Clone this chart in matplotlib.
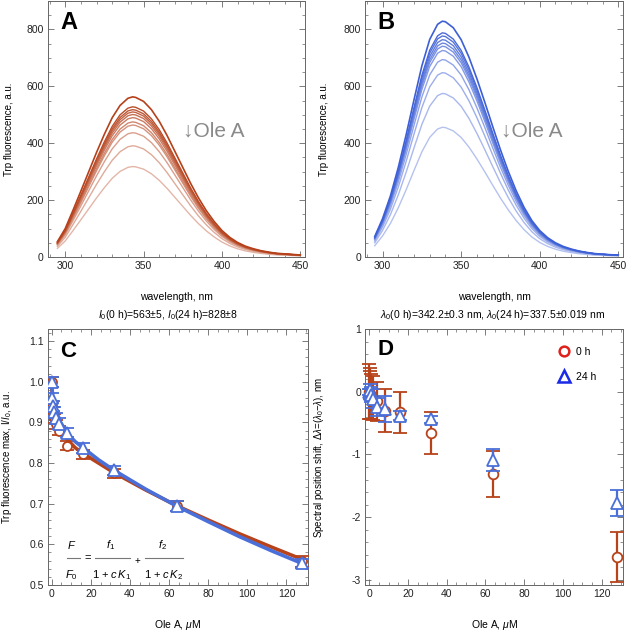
import numpy as np
import matplotlib.pyplot as plt
from matplotlib.lines import Line2D
from matplotlib.ticker import MultipleLocator, FormatStrFormatter

plt.rcParams['font.family'] = ['Liberation Sans', 'DejaVu Sans']
plt.rcParams['mathtext.fontset'] = 'custom'
plt.rcParams['mathtext.rm'] = 'Liberation Sans'
plt.rcParams['mathtext.it'] = 'Liberation Sans:italic'
plt.rcParams['axes.unicode_minus'] = False
plt.rcParams['font.size'] = 7.5

# --- spectra: top curve, other curves scaled to their peaks
wl_a = [295, 300, 305, 310, 315, 320, 325, 330, 335, 340, 343, 345, 350, 355, 360, 365, 370,
        375, 380, 385, 390, 395, 400, 405, 410, 415, 420, 425, 430, 435, 440, 445, 450]
top_a = [54, 100, 165, 232, 300, 368, 432, 490, 533, 558, 563, 561, 547, 518, 477, 427, 371,
         315, 259, 208, 163, 125, 93, 69, 51, 38, 29, 22, 17, 13, 11, 9, 7]
peaks_a = [563, 528, 518, 510, 501, 490, 475, 464, 437, 391, 318]

wl_b = [295, 300, 305, 310, 315, 320, 325, 330, 335, 338, 340, 345, 350, 355, 360, 365, 370,
        375, 380, 385, 390, 395, 400, 405, 410, 415, 420, 425, 430, 435, 440, 445, 450]
top_b = [72, 135, 215, 315, 430, 553, 672, 765, 818, 829, 827, 806, 764, 702, 627, 545, 460,
         377, 301, 233, 175, 128, 93, 68, 50, 37, 28, 21, 16, 12, 10, 8, 7]
peaks_b = [829, 788, 777, 764, 752, 741, 726, 694, 648, 575, 456]

# --- titration, Ole A concentration in uM
conc = [0, 0.25, 0.5, 1, 2, 4, 8, 16, 32, 64, 128]
ratio_0h = [1.0, 0.94, 0.925, 0.91, 0.895, 0.88, 0.843, 0.822, 0.775, 0.694, 0.558]
ratio_24h = [1.0, 0.96, 0.94, 0.925, 0.91, 0.897, 0.875, 0.838, 0.782, 0.695, 0.553]
ratio_err_0h = [0.012, 0.012, 0.012, 0.012, 0.012, 0.012, 0.011, 0.011, 0.011, 0.012, 0.014]
ratio_err_24h = [0.013, 0.013, 0.013, 0.013, 0.013, 0.013, 0.012, 0.012, 0.011, 0.012, 0.012]

fit_x = [0, 0.5, 1, 2, 4, 8, 12, 16, 24, 32, 48, 64, 80, 96, 112, 128]
fit_0h = [0.995, 0.955, 0.935, 0.915, 0.89, 0.858, 0.838, 0.824, 0.8, 0.776, 0.734, 0.695,
          0.66, 0.626, 0.594, 0.563]
fit_24h = [1.0, 0.965, 0.948, 0.93, 0.905, 0.873, 0.853, 0.838, 0.808, 0.782, 0.736, 0.694,
           0.656, 0.619, 0.585, 0.553]

shift_0h = [0.0, -0.03, -0.05, -0.08, -0.1, -0.15, -0.3, -0.33, -0.66, -1.31, -2.64]
shift_err_0h = [0.44, 0.41, 0.38, 0.36, 0.35, 0.31, 0.34, 0.32, 0.34, 0.36, 0.4]
shift_24h = [0.0, -0.03, 0.02, -0.05, -0.11, -0.24, -0.27, -0.38, -0.44, -1.09, -1.77]
shift_err_24h = [0.05, 0.08, 0.1, 0.12, 0.15, 0.14, 0.21, 0.07, 0.06, 0.18, 0.21]

RED = '#b8431b'
BLUE = '#4a6fd8'

W, H = 626, 631


def px_rect(l, t, r, b):
    return [l / W, 1 - b / H, (r - l) / W, (b - t) / H]


def style(ax):
    ax.tick_params(which='both', direction='in', top=True, right=True, colors='#666',
                   labelcolor='#222', labelsize=7.5)
    ax.tick_params(which='major', length=4, width=0.6, pad=3)
    ax.tick_params(which='minor', length=2.2, width=0.5)
    for s in ax.spines.values():
        s.set_color('#666')
        s.set_linewidth(0.7)


def blend(c, t):
    c = np.array(plt.matplotlib.colors.to_rgb(c))
    return tuple(c + (1 - c) * t)


fig = plt.figure(figsize=(W / 100, H / 100), dpi=100)
axA = fig.add_axes(px_rect(48, 1, 305, 257))
axB = fig.add_axes(px_rect(365.3, 1, 623, 257))
axC = fig.add_axes(px_rect(47.7, 329, 308, 585))
axD = fig.add_axes(px_rect(365.3, 329, 623, 585))

# A and B: spectra
for ax, wl, top, peaks, col, letter in [(axA, wl_a, top_a, peaks_a, '#b5401a', 'A'),
                                         (axB, wl_b, top_b, peaks_b, '#3d5fd6', 'B')]:
    n = len(peaks)
    for i in range(n - 1, -1, -1):
        y = np.array(top) * peaks[i] / peaks[0]
        ax.plot(wl, y, color=blend(col, 0.62 * i / (n - 1)), lw=1.0 if i else 1.2)
    ax.set_xlim(289, 453)
    ax.set_ylim(0, 900)
    ax.xaxis.set_major_locator(MultipleLocator(50))
    ax.xaxis.set_minor_locator(MultipleLocator(10))
    ax.yaxis.set_major_locator(MultipleLocator(200))
    ax.yaxis.set_minor_locator(MultipleLocator(50))
    style(ax)
    ax.set_xlabel('wavelength, nm', fontsize=7.5)
    ax.xaxis.set_label_coords(0.5, -0.136)
    ax.set_ylabel('Trp fluorescence, a.u.', fontsize=7)
    ax.text(0.08, 0.915, letter, transform=ax.transAxes, fontsize=17, fontweight='bold',
            ha='center', va='center')
    ax.text(0.525, 0.493, '\u2193Ole A', transform=ax.transAxes, fontsize=15, color='#8a8a8a',
            va='center', ha='left')
axA.yaxis.set_label_coords(-0.134, 0.5)
axB.yaxis.set_label_coords(-0.139, 0.5)

# C: normalized intensity with fits
axC.plot(fit_x, fit_0h, color=RED, lw=2.6, zorder=2)
axC.errorbar(conc, ratio_0h, yerr=ratio_err_0h, fmt='o', color=RED, ms=6.5, mfc='white',
             mec=RED, mew=1.3, elinewidth=1.6, capsize=5, capthick=1.6, zorder=3)
axC.plot(fit_x, fit_24h, color=BLUE, lw=2.6, zorder=4)
axC.errorbar(conc, ratio_24h, yerr=ratio_err_24h, fmt='^', color=BLUE, ms=8, mfc='white',
             mec=BLUE, mew=1.3, elinewidth=1.6, capsize=5, capthick=1.6, zorder=5)
axC.set_xlim(-2, 131)
axC.set_ylim(0.5, 1.13)
axC.xaxis.set_major_locator(MultipleLocator(20))
axC.xaxis.set_minor_locator(MultipleLocator(5))
axC.yaxis.set_major_locator(MultipleLocator(0.1))
axC.yaxis.set_minor_locator(MultipleLocator(0.02))
axC.yaxis.set_major_formatter(FormatStrFormatter('%.1f'))
style(axC)
axC.set_xlabel(r'Ole A, $\mu$M', fontsize=7.5)
axC.xaxis.set_label_coords(0.5, -0.128)
axC.set_ylabel(r'Trp fluorescence max, I/$I_0$, a.u.', fontsize=7)
axC.yaxis.set_label_coords(-0.128, 0.5)
axC.text(0.462, 1.055, r'$I_0$(0 h)=563±5, $I_0$(24 h)=828±8', transform=axC.transAxes,
         ha='center', va='center')
axC.text(0.079, 0.914, 'C', transform=axC.transAxes, fontsize=16, fontweight='bold',
         ha='center', va='center')

# formula F/F0 = f1/(1+cK1) + f2/(1+cK2)
fs = 8
num_y, den_y, bar_y = 0.156, 0.039, 0.104
for x, s in [(0.093, r'$F$'), (0.241, r'$f_1$'), (0.44, r'$f_2$')]:
    axC.text(x, num_y, s, transform=axC.transAxes, ha='center', va='center', fontsize=fs)
for x, s in [(0.092, r'$F_0$'), (0.246, r'1 + $c\,K_1$'), (0.444, r'1 + $c\,K_2$')]:
    axC.text(x, den_y, s, transform=axC.transAxes, ha='center', va='center', fontsize=fs)
axC.text(0.152, bar_y, '=', transform=axC.transAxes, ha='center', va='center', fontsize=fs)
axC.text(0.346, bar_y - 0.012, '+', transform=axC.transAxes, ha='center', va='center',
         fontsize=fs - 1)
for x0, x1 in [(0.073, 0.124), (0.182, 0.316), (0.374, 0.521)]:
    axC.add_line(Line2D([x0, x1], [bar_y, bar_y], transform=axC.transAxes, color='#777', lw=0.8))

# D: spectral shift
axD.errorbar(conc, shift_0h, yerr=shift_err_0h, fmt='o', color=RED, ms=7, mfc='white',
             mec=RED, mew=1.3, elinewidth=1.6, capsize=5, capthick=1.6, clip_on=False, zorder=3)
axD.errorbar(conc, shift_24h, yerr=shift_err_24h, fmt='^', color=BLUE, ms=8, mfc='white',
             mec=BLUE, mew=1.3, elinewidth=1.6, capsize=5, capthick=1.6, clip_on=False, zorder=4)
axD.set_xlim(-2, 131)
axD.set_ylim(-3.08, 1.0)
axD.xaxis.set_major_locator(MultipleLocator(20))
axD.xaxis.set_minor_locator(MultipleLocator(5))
axD.yaxis.set_major_locator(MultipleLocator(1))
axD.yaxis.set_minor_locator(MultipleLocator(0.2))
style(axD)
axD.set_xlabel(r'Ole A, $\mu$M', fontsize=7.5)
axD.xaxis.set_label_coords(0.5, -0.128)
axD.set_ylabel(r'Spectral position shift, $\Delta\lambda$=($\lambda_0$$-$$\lambda$), nm',
               fontsize=7)
axD.yaxis.set_label_coords(-0.152, 0.5)
axD.text(0.495, 1.055, r'$\lambda_0$(0 h)=342.2±0.3 nm, $\lambda_0$(24 h)=337.5±0.019 nm',
         transform=axD.transAxes, ha='center', va='center')
axD.text(0.078, 0.918, 'D', transform=axD.transAxes, fontsize=16, fontweight='bold',
         ha='center', va='center')
handles = [Line2D([], [], ls='none', marker='o', ms=7, mfc='white', mec='#e0201a', mew=1.8,
                  label='0 h'),
           Line2D([], [], ls='none', marker='^', ms=8, mfc='white', mec='#1a2ae6', mew=1.8,
                  label='24 h')]
axD.legend(handles=handles, loc='upper left', bbox_to_anchor=(0.75, 0.93), frameon=False,
           borderpad=0, borderaxespad=0, handlelength=1.0, handletextpad=0.7,
           labelspacing=1.4, fontsize=7.5)

fig.savefig('out.png', dpi=100)
